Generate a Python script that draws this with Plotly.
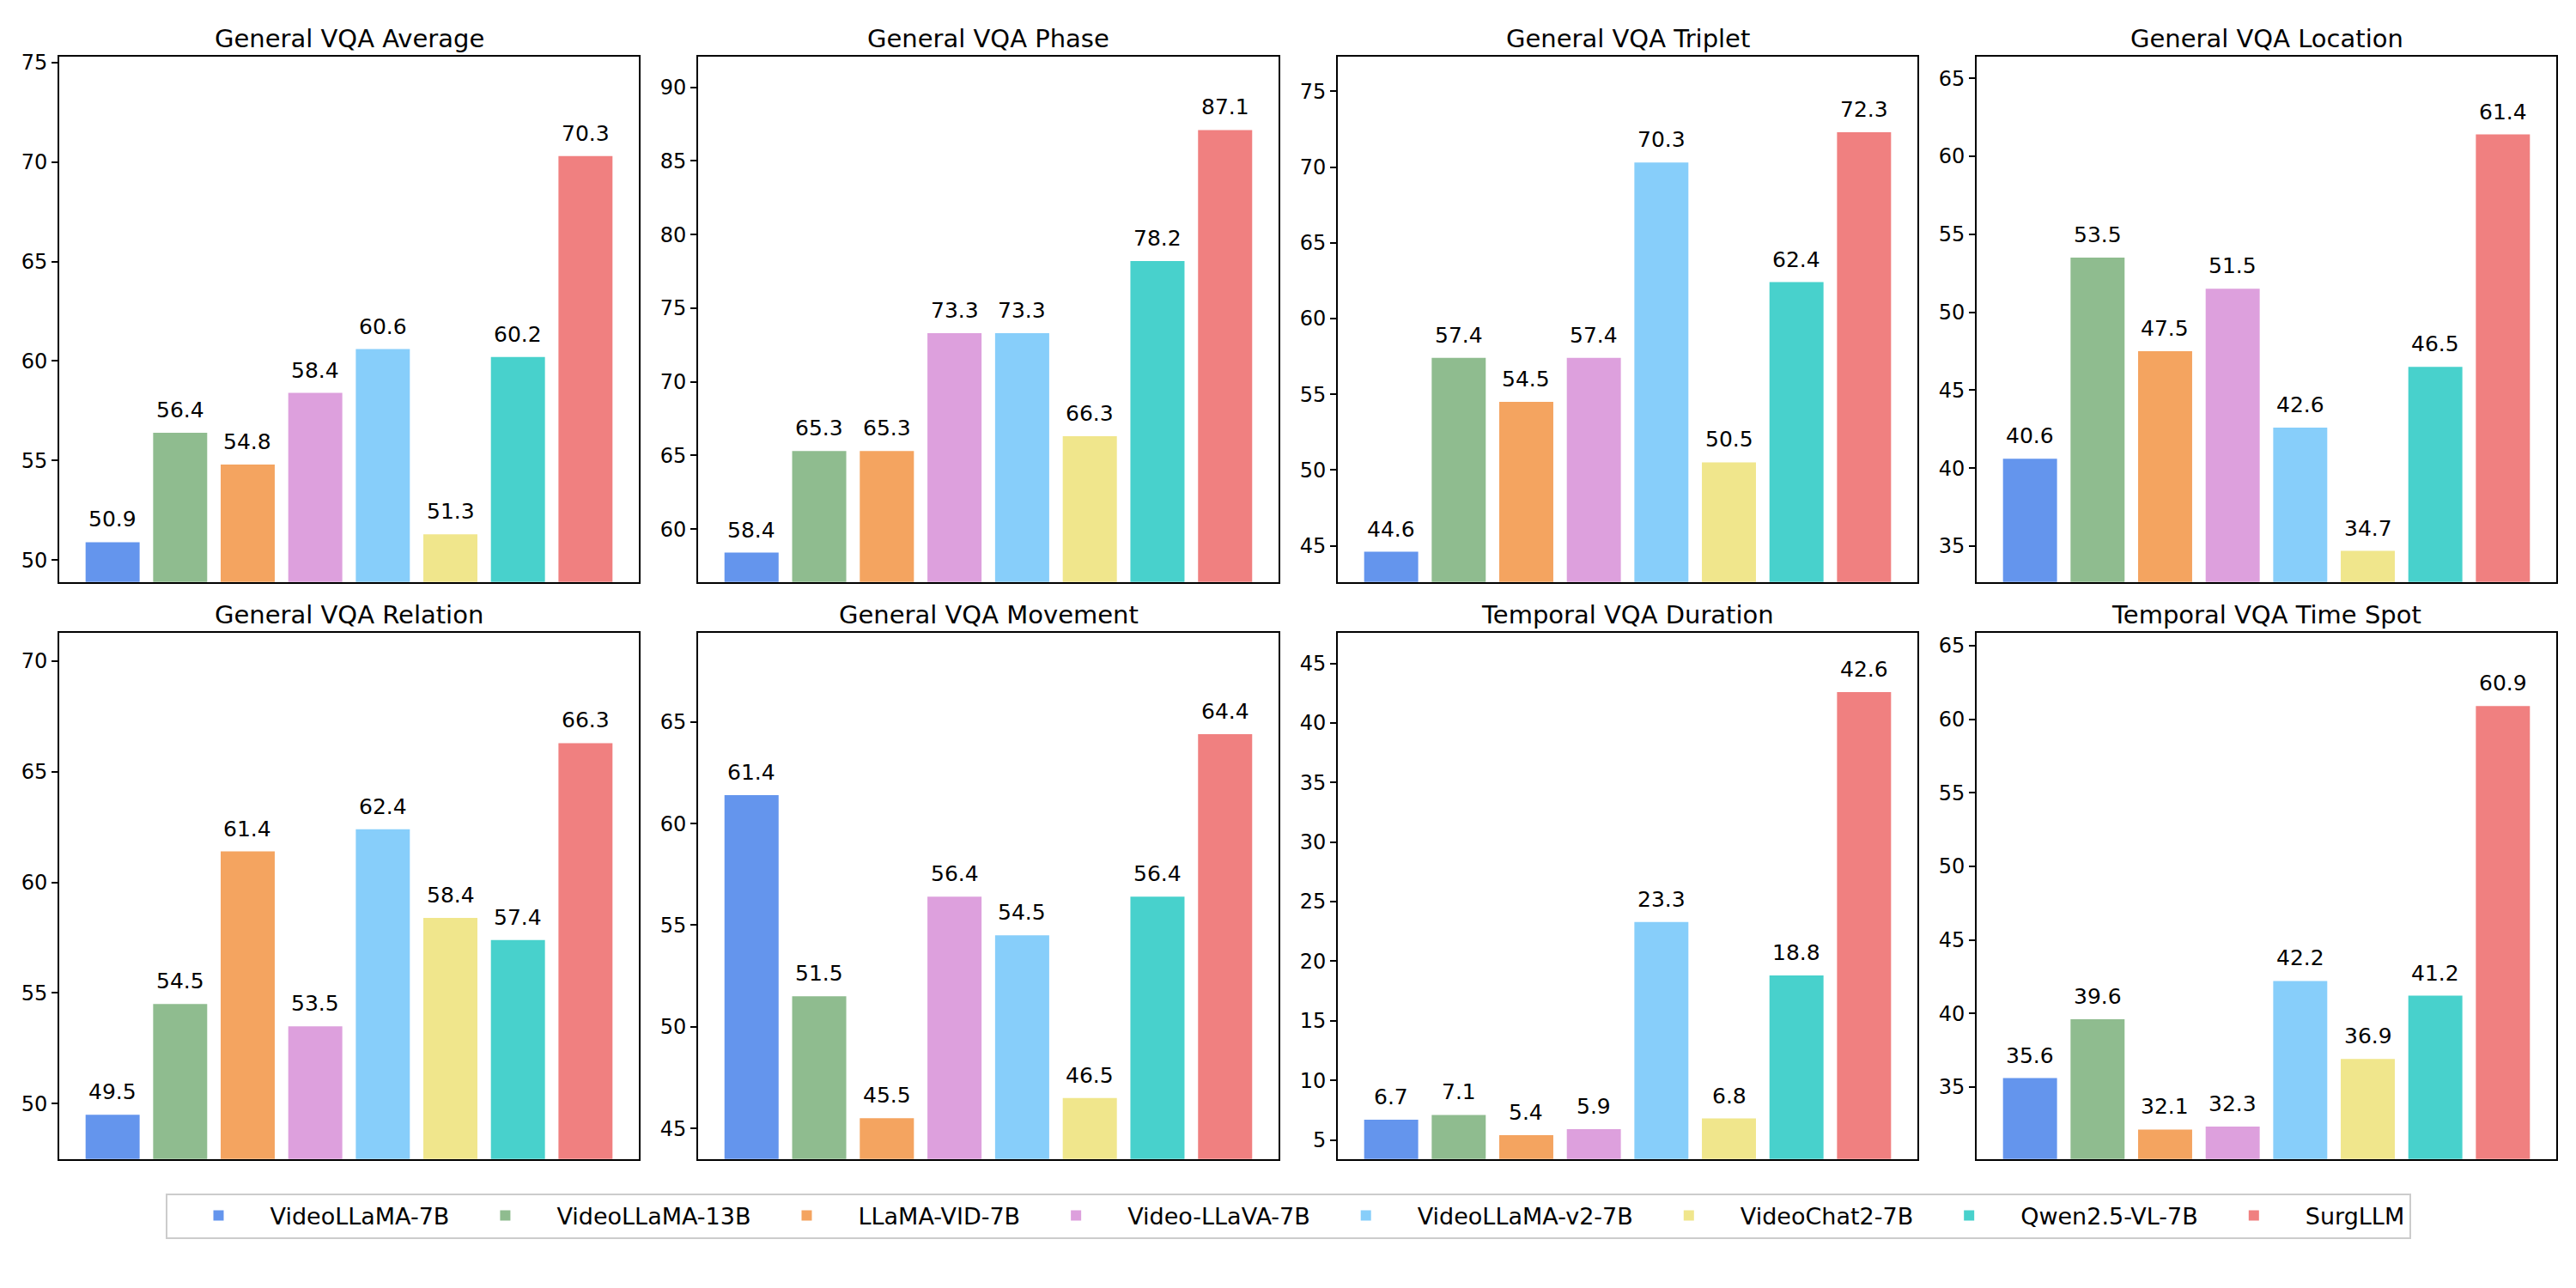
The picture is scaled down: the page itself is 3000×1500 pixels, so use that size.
import plotly.graph_objects as go

models = ["VideoLLaMA-7B", "VideoLLaMA-13B", "LLaMA-VID-7B", "Video-LLaVA-7B",
          "VideoLLaMA-v2-7B", "VideoChat2-7B", "Qwen2.5-VL-7B", "SurgLLM"]
colors = ["#6495ED", "#8FBC8F", "#F4A460", "#DDA0DD",
          "#87CEFA", "#F0E68C", "#48D1CC", "#F08080"]

panel_titles = ["General VQA Average", "General VQA Phase", "General VQA Triplet",
                "General VQA Location", "General VQA Relation", "General VQA Movement",
                "Temporal VQA Duration", "Temporal VQA Time Spot"]

avg_vals = [50.9, 56.4, 54.8, 58.4, 60.6, 51.3, 60.2, 70.3]
phase_vals = [58.4, 65.3, 65.3, 73.3, 73.3, 66.3, 78.2, 87.1]
triplet_vals = [44.6, 57.4, 54.5, 57.4, 70.3, 50.5, 62.4, 72.3]
location_vals = [40.6, 53.5, 47.5, 51.5, 42.6, 34.7, 46.5, 61.4]
relation_vals = [49.5, 54.5, 61.4, 53.5, 62.4, 58.4, 57.4, 66.3]
movement_vals = [61.4, 51.5, 45.5, 56.4, 54.5, 46.5, 56.4, 64.4]
duration_vals = [6.7, 7.1, 5.4, 5.9, 23.3, 6.8, 18.8, 42.6]
timespot_vals = [35.6, 39.6, 32.1, 32.3, 42.2, 36.9, 41.2, 60.9]

panels = [avg_vals, phase_vals, triplet_vals, location_vals,
          relation_vals, movement_vals, duration_vals, timespot_vals]

W, H = 3000, 1500
col_px = [(69, 744), (813, 1489), (1558, 2233), (2302, 2977)]
row_px = [(59, 674), (733, 1349)]
FONT = "DejaVu Sans"

fig = go.Figure()
layout_axes = {}
annotations = []

for p, (title, vals) in enumerate(zip(panel_titles, panels)):
    r, c = divmod(p, 4)
    suffix = "" if p == 0 else str(p + 1)
    xref, yref = "x" + suffix, "y" + suffix
    for i, (m, col, v) in enumerate(zip(models, colors, vals)):
        fig.add_trace(go.Bar(
            x=[i], y=[v], width=0.8, name=m, legendgroup=m,
            showlegend=(p == 0), marker=dict(color=col, line=dict(width=0)),
            xaxis=xref, yaxis=yref, hoverinfo="skip"))
        annotations.append(dict(
            x=i, y=v, xref=xref, yref=yref, text=f"{v:.1f}", showarrow=False,
            yanchor="bottom", xanchor="center", yshift=10,
            font=dict(family=FONT, size=25, color="black")))
    x0, x1 = col_px[c]
    y0, y1 = row_px[r]
    ymin, ymax = min(vals) - 2, max(vals) + 5
    axis_common = dict(showline=True, linecolor="black", linewidth=1.7, mirror=True,
                       showgrid=False, zeroline=False)
    layout_axes["xaxis" + suffix] = dict(
        domain=[x0 / W, x1 / W], range=[-0.79, 7.79], anchor=yref,
        showticklabels=False, ticks="", **axis_common)
    layout_axes["yaxis" + suffix] = dict(
        domain=[1 - y1 / H, 1 - y0 / H], range=[ymin, ymax], anchor=xref,
        tick0=0, dtick=5, ticks="outside", ticklen=7, tickwidth=1.7,
        tickcolor="black",
        tickfont=dict(family=FONT, size=24, color="black"), **axis_common)
    annotations.append(dict(
        x=(x0 + x1) / 2 / W, y=1 - y0 / H, xref="paper", yref="paper",
        text=title, showarrow=False, xanchor="center", yanchor="bottom", yshift=2,
        font=dict(family=FONT, size=29, color="black")))

fig.update_layout(
    width=W, height=H, margin=dict(l=0, r=0, t=0, b=0),
    paper_bgcolor="white", plot_bgcolor="white",
    barmode="overlay", annotations=annotations,
    font=dict(family=FONT, color="black"),
    legend=dict(orientation="h", x=0.5, xanchor="center", y=1 - 1389 / H, yanchor="top",
                font=dict(family=FONT, size=27, color="black"),
                bordercolor="#cccccc", borderwidth=2, bgcolor="white",
                itemwidth=110, traceorder="normal"),
    **layout_axes)

fig.write_html("out.html", config={"displayModeBar": False})
